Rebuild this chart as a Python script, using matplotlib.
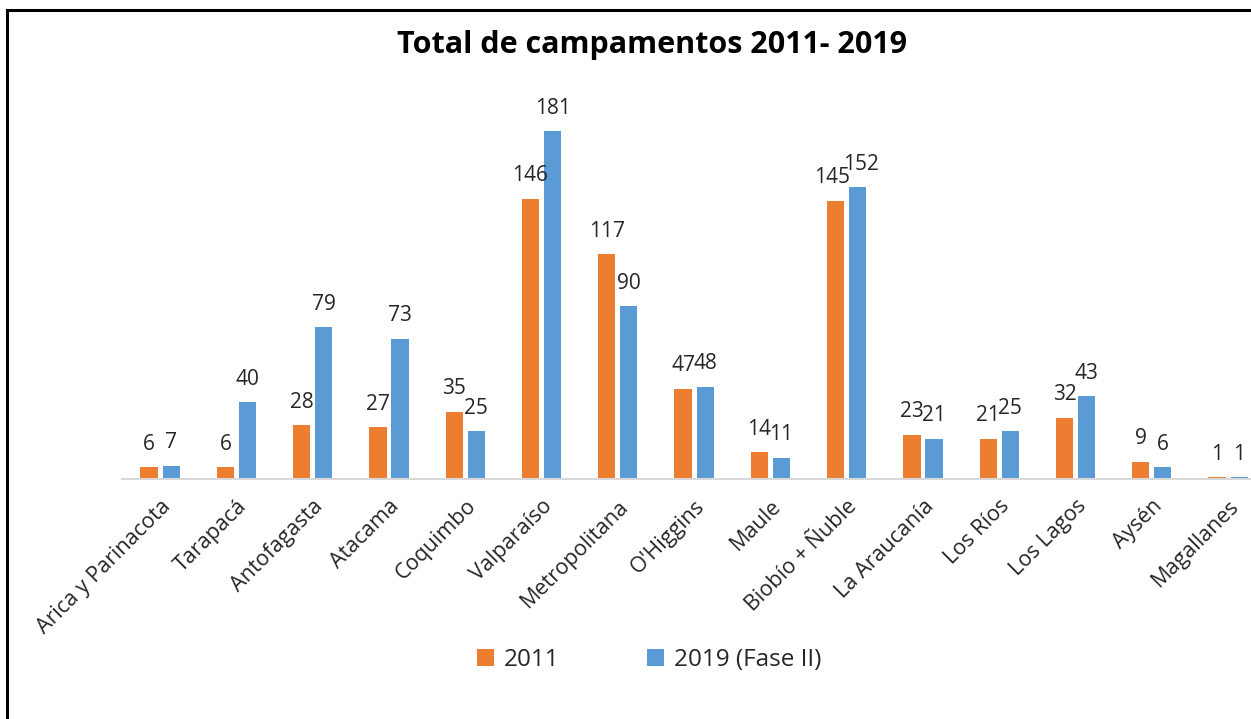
import numpy as np
import matplotlib.pyplot as plt

regiones = ['Arica y Parinacota', 'Tarapacá', 'Antofagasta', 'Atacama', 'Coquimbo',
            'Valparaíso', 'Metropolitana', "O'Higgins", 'Maule', 'Biobío + Ñuble',
            'La Araucanía', 'Los Ríos', 'Los Lagos', 'Aysén', 'Magallanes']
v2011 = [6, 6, 28, 27, 35, 146, 117, 47, 14, 145, 23, 21, 32, 9, 1]
v2019 = [7, 40, 79, 73, 25, 181, 90, 48, 11, 152, 21, 25, 43, 6, 1]

c2011 = '#ED7D31'
c2019 = '#5B9BD5'

W, H = 1251, 719
plt.rcParams['font.family'] = ['Open Sans', 'DejaVu Sans']

fig = plt.figure(figsize=(W/100, H/100), dpi=100)

# marco negro del recorte
fig.add_artist(plt.Line2D([7/W, 7/W], [0, 1 - 10/H], color='black', lw=2.2))
fig.add_artist(plt.Line2D([7/W, 1], [1 - 10/H, 1 - 10/H], color='black', lw=2.2))

x0, x1 = 122, 1251
y0, y1 = 479, 95
ax = fig.add_axes([x0/W, 1 - y0/H, (x1 - x0)/W, (y0 - y1)/H])

x = np.arange(len(regiones))
bw = 0.225
off = 0.145
b1 = ax.bar(x - off, v2011, bw, color=c2011, label='2011')
b2 = ax.bar(x + off, v2019, bw, color=c2019, label='2019 (Fase II)')

for bars, vals, dx in ((b1, v2011, -2.5), (b2, v2019, 2.5)):
    for i, (b, v) in enumerate(zip(bars, vals)):
        # Biobío: etiquetas casi pegadas, separarlas un poco
        sx = dx if i == 9 else 0
        ax.annotate(str(v), (b.get_x() + b.get_width()/2, v), xytext=(sx, 9),
                    textcoords='offset points', ha='center', va='bottom',
                    fontsize=15, color='#262626')

ax.set_xlim(-0.5, 14.3)
ax.set_ylim(0, 200)
for s in ['top', 'right', 'left']:
    ax.spines[s].set_visible(False)
ax.spines['bottom'].set_color('#D9D9D9')
ax.spines['bottom'].set_linewidth(1.5)
ax.set_yticks([])
ax.set_xticks(x)
ax.set_xticklabels(regiones, rotation=45, ha='right', rotation_mode='anchor',
                   fontsize=15.5, color='#262626')
ax.tick_params(axis='x', length=0, pad=12)

fig.text(652/W, 1 - 45/H, 'Total de campamentos 2011- 2019', ha='center', va='center',
         fontsize=22, fontweight='bold', color='black')

fig.legend(handles=[b1, b2], loc='center', bbox_to_anchor=(649/W, 1 - 660/H),
           ncol=2, frameon=False, fontsize=17.5, handlelength=0.7, handleheight=0.7,
           columnspacing=3.6, handletextpad=0.4, labelcolor='#262626')

fig.savefig('out.png', dpi=100)
